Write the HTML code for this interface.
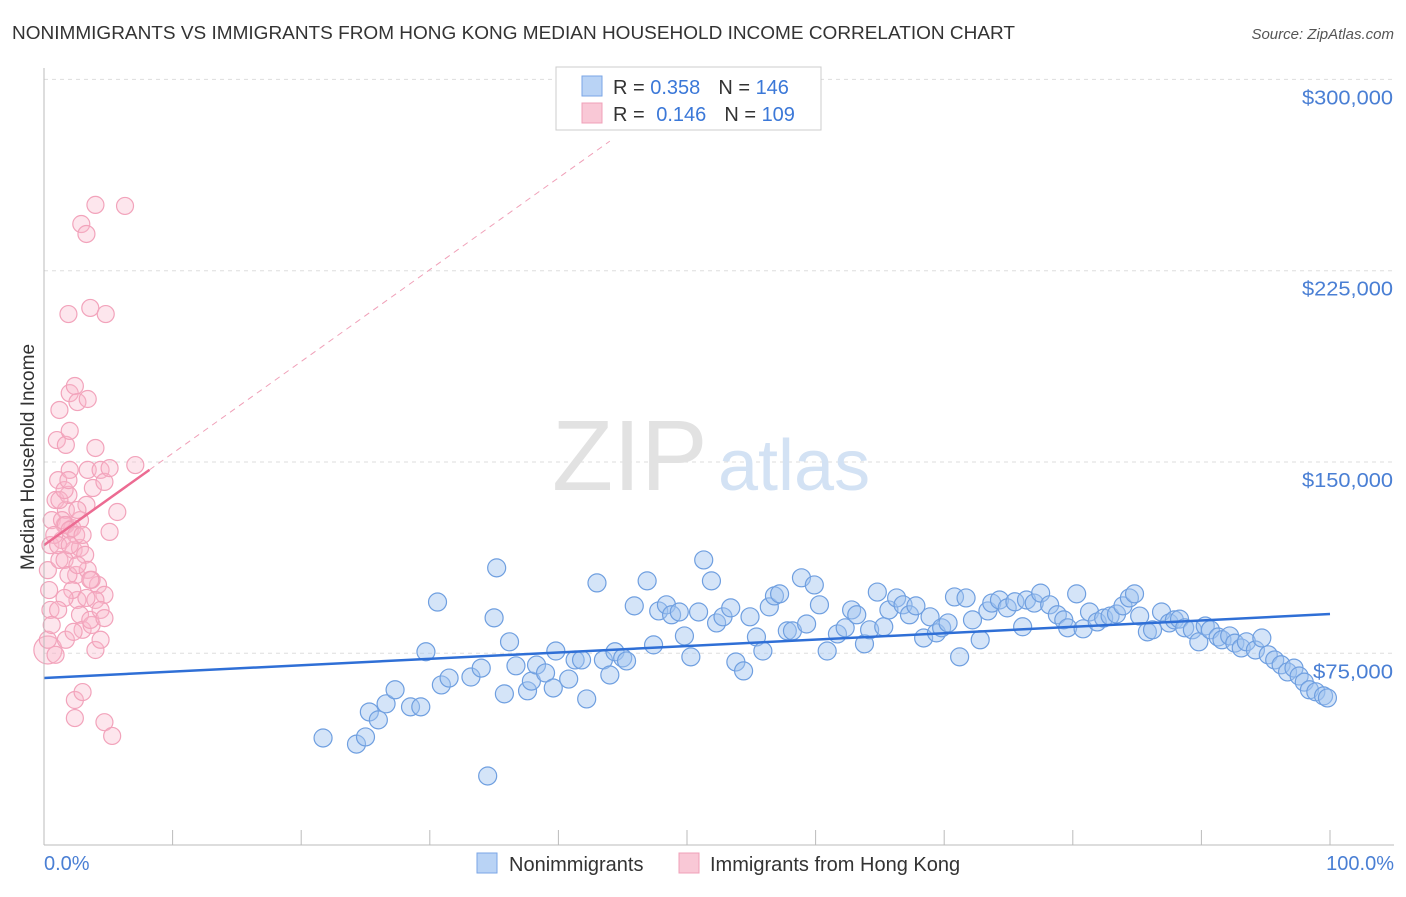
<!DOCTYPE html>
<html><head><meta charset="utf-8">
<style>
body{margin:0;background:#fff;font-family:"Liberation Sans",sans-serif;}
svg text{font-family:"Liberation Sans",sans-serif;}
</style></head>
<body>
<svg id="chart" width="1406" height="892" xmlns="http://www.w3.org/2000/svg">
<text x="12" y="39" font-size="18" fill="#333" textLength="1003" lengthAdjust="spacingAndGlyphs">NONIMMIGRANTS VS IMMIGRANTS FROM HONG KONG MEDIAN HOUSEHOLD INCOME CORRELATION CHART</text>
<text x="1394" y="39" font-size="15" fill="#555" font-style="italic" text-anchor="end">Source: ZipAtlas.com</text>
<g id="grid"></g>
<text x="552" y="490" font-size="100" fill="#e2e2e2" font-family="Liberation Serif">ZIP</text>
<text x="718" y="490" font-size="72" fill="#d3e2f4">atlas</text>
<g id="points"></g>
<g id="axes"></g>
<text x="34" y="457" font-size="19" fill="#333" text-anchor="middle" transform="rotate(-90 34 457)">Median Household Income</text>
<text x="44" y="870" font-size="20" fill="#4a7fd4">0.0%</text>
<text x="1394" y="870" font-size="20" fill="#4a7fd4" text-anchor="end">100.0%</text>
<g>
<rect x="556" y="67" width="265" height="63" fill="#fff" stroke="#ccc"/>
<rect x="582" y="76" width="20" height="20" fill="#b9d3f5" stroke="#7aa6e6"/>
<rect x="582" y="103" width="20" height="20" fill="#f9c8d6" stroke="#f0a0b8"/>
<text x="613" y="94" font-size="20" fill="#333">R = <tspan fill="#3b78d8">0.358</tspan><tspan dx="18">N = </tspan><tspan fill="#3b78d8">146</tspan></text>
<text x="613" y="121" font-size="20" fill="#333">R = <tspan fill="#3b78d8" dx="6">0.146</tspan><tspan dx="18">N = </tspan><tspan fill="#3b78d8">109</tspan></text>
</g>
<g>
<rect x="477" y="853" width="20" height="20" fill="#b9d3f5" stroke="#7aa6e6"/>
<text x="509" y="871" font-size="20" fill="#333">Nonimmigrants</text>
<rect x="679" y="853" width="20" height="20" fill="#f9c8d6" stroke="#f0a0b8"/>
<text x="710" y="871" font-size="20" fill="#333">Immigrants from Hong Kong</text>
</g>
</svg>
<script>
const yTicks=[75000,150000,225000,300000];
const yTickLabels=["$75,000","$150,000","$225,000","$300,000"];
const blueX=[21.7,24.3,25.0,25.3,26.0,26.6,27.3,28.5,29.3,29.7,30.6,30.9,31.5,33.2,34.0,34.5,35.0,35.2,35.8,36.2,36.7,37.6,37.9,38.3,39.0,39.6,39.8,40.8,41.3,41.8,42.2,43.0,43.5,44.0,44.4,45.0,45.3,45.9,46.9,47.4,47.8,48.4,48.8,49.4,49.8,50.3,50.9,51.3,51.9,52.3,52.8,53.4,53.8,54.4,54.9,55.4,55.9,56.4,56.8,57.2,57.8,58.2,58.9,59.3,59.9,60.3,60.9,61.7,62.3,62.8,63.2,63.8,64.2,64.8,65.3,65.7,66.3,66.8,67.3,67.8,68.4,68.9,69.4,69.8,70.3,70.8,71.2,71.7,72.2,72.8,73.4,73.7,74.3,74.9,75.5,76.1,76.4,77.0,77.5,78.2,78.8,79.3,79.6,80.3,80.8,81.3,81.9,82.4,82.9,83.4,83.9,84.4,84.8,85.2,85.8,86.2,86.9,87.5,87.9,88.3,88.7,89.3,89.8,90.3,90.7,91.3,91.6,92.2,92.6,93.1,93.5,94.2,94.7,95.2,95.7,96.2,96.7,97.2,97.6,98.0,98.4,98.9,99.5,99.8];
const blueY=[41.8,39.4,42.2,52.0,48.9,55.2,60.7,54.0,54.0,75.6,95.1,62.6,65.3,65.7,69.2,26.9,88.9,108.5,59.1,79.5,70.1,60.3,64.1,70.4,67.3,61.4,75.9,64.9,72.4,72.4,57.1,102.6,72.4,66.5,75.6,73.2,72.0,93.6,103.4,78.3,91.6,94.0,90.1,91.2,81.8,73.6,91.2,111.6,103.4,86.9,89.3,92.8,71.6,68.1,89.3,81.4,75.9,93.2,97.5,98.3,83.8,83.8,104.6,86.5,101.8,94.0,75.9,82.6,85.0,92.0,90.1,78.7,84.2,99.0,85.4,92.0,96.7,94.0,90.1,93.6,81.0,89.3,83.0,85.0,86.9,97.1,73.6,96.7,88.1,80.3,91.6,94.7,95.9,92.8,95.2,85.4,95.9,94.7,98.6,94.0,90.1,88.1,85.0,98.3,84.6,91.2,87.3,88.8,89.6,90.4,93.6,96.7,98.3,89.6,83.4,84.2,91.2,86.9,88.1,88.4,85.0,84.2,79.5,85.7,84.2,81.4,80.3,81.8,79.0,77.1,79.5,76.3,81.0,74.4,72.4,70.5,67.7,69.2,66.1,63.7,60.7,59.9,58.3,57.5];
const pinkX=[0.3,0.3,0.5,0.4,0.3,0.5,0.6,0.9,1.1,1.2,1.4,1.6,1.7,1.9,2.0,2.2,2.3,2.5,2.6,2.8,3.0,1.0,1.2,2.0,2.4,2.6,3.4,1.7,2.0,2.9,3.3,3.6,4.0,1.9,4.8,6.3,2.4,2.4,3.0,3.7,4.0,4.4,4.7,5.3,3.4,3.8,4.0,4.4,4.7,5.1,5.7,7.1,5.1,4.2,4.7,3.6,1.4,1.7,2.0,0.8,1.1,1.6,1.9,2.2,2.8,3.2,3.4,3.7,4.0,4.4,4.7,3.3,2.8,2.5,2.0,1.6,1.1,0.6,0.9,1.7,2.3,2.6,3.0,1.2,1.6,1.9,3.6,3.3,2.6];
const pinkY=[76.3,80.3,92.0,99.8,107.6,117.4,127.2,135.1,142.9,111.6,119.4,125.3,131.2,137.1,146.9,124.1,115.5,105.7,95.9,90.1,84.2,158.6,170.4,177.0,179.8,173.5,174.7,156.7,162.2,243.3,239.4,210.4,250.8,208.0,208.0,250.4,56.7,49.6,59.8,86.1,76.3,80.3,48.0,42.6,146.9,139.8,155.5,146.9,142.2,147.6,130.4,148.8,122.6,101.8,97.9,88.1,127.2,125.3,123.4,121.4,117.4,111.6,105.7,99.8,116.3,113.6,107.7,103.8,95.9,92.0,88.8,133.2,127.2,121.4,117.4,96.7,92.0,86.1,74.4,80.3,83.4,131.2,121.4,135.1,139.0,142.9,103.8,96.7,109.6];
const blueTrend=[65.3,90.4];
const pinkTrend=[117.4,3.6];
const NS="http://www.w3.org/2000/svg";
const X0=44,X1=1330,Y0=844.6,YS=191.3/75000;
function sx(p){return X0+(X1-X0)*p/100;}
function sy(v){return Y0-v*YS;}
function mk(tag,attrs,parent){const e=document.createElementNS(NS,tag);for(const k in attrs)e.setAttribute(k,attrs[k]);parent.appendChild(e);return e;}
const grid=document.getElementById('grid');
yTicks.forEach((t,i)=>{
 const l=mk('line',{x1:44,x2:1394,y1:sy(t),y2:sy(t),stroke:'#ddd','stroke-dasharray':'4,4'},grid);
 
 
 const tx=mk('text',{x:1393,y:sy(t)+25,'font-size':20,fill:'#4a7fd4','text-anchor':'end',textLength:yTickLabels[i].length>7?91:80,lengthAdjust:'spacingAndGlyphs'},grid);
 tx.textContent=yTickLabels[i];
 
 
});
const axes=document.getElementById('axes');
const al=mk('line',{x1:44,x2:44,y1:68,y2:845,stroke:'#bbb'},axes);


const bl=mk('line',{x1:44,x2:1394,y1:845,y2:845,stroke:'#bbb'},axes);


for(let i=0;i<=10;i++){
 const tk=mk('line',{x1:sx(i*10),x2:sx(i*10),y1:830,y2:845,stroke:'#bbb'},axes);
 
 
}
const pts=document.getElementById('points');
pinkX.forEach((x,i)=>{
 const c=mk('circle',{cx:sx(x),cy:sy(pinkY[i]*1000),r:i===0?14:8.5,fill:'rgba(248,182,202,0.35)',stroke:'#f2a3bb','stroke-width':1.2},pts);
 
 
});
blueX.forEach((x,i)=>{
 const c=mk('circle',{cx:sx(x),cy:sy(blueY[i]*1000),r:9,fill:'rgba(160,196,240,0.45)',stroke:'#6f9fe0','stroke-width':1.2},pts);
 
 
});
const bt=mk('line',{x1:sx(0),y1:sy(blueTrend[0]*1000),x2:sx(100),y2:sy(blueTrend[1]*1000),stroke:'#2f6fd6','stroke-width':2.5},pts);


const pd=mk('line',{x1:sx(8.2),y1:sy((pinkTrend[0]+pinkTrend[1]*8.2)*1000),x2:sx(44),y2:sy((pinkTrend[0]+pinkTrend[1]*44)*1000),stroke:'#f0a0b8','stroke-width':1,'stroke-dasharray':'6,5'},pts);


const pt=mk('line',{x1:sx(0),y1:sy(pinkTrend[0]*1000),x2:sx(8.2),y2:sy((pinkTrend[0]+pinkTrend[1]*8.2)*1000),stroke:'#ec6b92','stroke-width':2.5},pts);


</script>
</body></html>
